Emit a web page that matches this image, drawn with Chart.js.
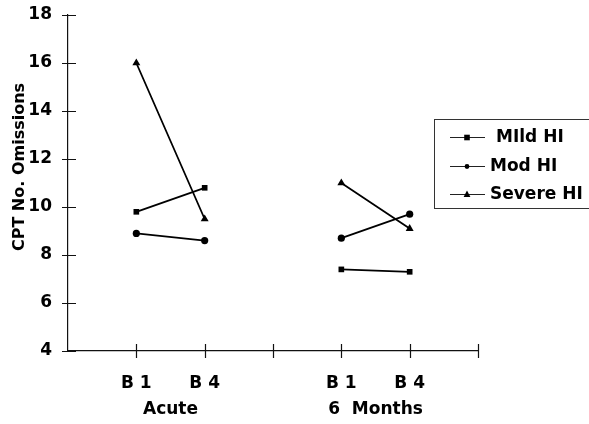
<!DOCTYPE html>
<html lang="en">
<head>
  <meta charset="UTF-8" />
  <title>CPT No. Omissions</title>
  <script src="https://cdn.jsdelivr.net/npm/chart.js"></script>
  <style>
    html, body { margin: 0; padding: 0; background: #fff; }
    #wrap { width: 589px; height: 424px; position: relative; }
  </style>
</head>
<body>
  <div id="wrap"><canvas id="cptChart"></canvas></div>

  <script>
    // slots on the x axis: empty ones give the gaps at the ends and between groups
    const categories = ['', 'B 1', 'B 4', '', 'B 1', 'B 4', ''];
    const groups = [
      { label: 'Acute', from: 1, to: 2 },
      { label: '6  Months', from: 4, to: 5 }
    ];
    const yTicks = [4, 6, 8, 10, 12, 14, 16, 18];

    const mildHI   = [null, 9.8, 10.8, null, 7.4, 7.3, null];
    const modHI    = [null, 8.9, 8.6, null, 8.7, 9.7, null];
    const severeHI = [null, 16.0, 9.5, null, 11.0, 9.1, null];

    const seriesNames = ['MIld HI', 'Mod HI', 'Severe HI'];
    const seriesStyles = ['rect', 'circle', 'triangle'];
    const seriesRadius = [4, 3.6, 4.6];

    const FONT = '"DejaVu Sans", sans-serif';

    // draws axis ticks that cross the axis lines, group titles, y title and legend
    const decorations = {
      id: 'decorations',
      afterDraw(chart) {
        const ctx = chart.ctx;
        const x = chart.scales.x, y = chart.scales.y;
        const area = chart.chartArea;
        ctx.save();
        ctx.strokeStyle = '#111';
        ctx.lineWidth = 1.2;
        ctx.beginPath();
        yTicks.forEach(v => {
          const py = Math.round(y.getPixelForValue(v)) + 0.5;
          ctx.moveTo(area.left - 6, py);
          ctx.lineTo(area.left + 8, py);
        });
        categories.forEach((c, i) => {
          if (i === 0) return;
          const px = Math.round(x.getPixelForValue(i)) + 0.5;
          ctx.moveTo(px, area.bottom - 7);
          ctx.lineTo(px, area.bottom + 7);
        });
        ctx.stroke();

        ctx.fillStyle = '#000';
        ctx.font = 'bold 17px ' + FONT;
        ctx.textAlign = 'center';
        ctx.textBaseline = 'middle';
        groups.forEach(g => {
          const cx = (x.getPixelForValue(g.from) + x.getPixelForValue(g.to)) / 2;
          ctx.fillText(g.label, cx, 410);
        });

        ctx.save();
        ctx.translate(20, 167);
        ctx.rotate(-Math.PI / 2);
        ctx.font = 'bold 16px ' + FONT;
        ctx.fillText('CPT No. Omissions', 0, 0);
        ctx.restore();

        // legend box
        ctx.strokeStyle = '#333';
        ctx.lineWidth = 1;
        ctx.strokeRect(434.5, 119.5, 170, 89);
        const rows = [137, 166, 194];
        const textX = [496, 490, 490];
        rows.forEach((ry, i) => {
          ctx.strokeStyle = '#222';
          ctx.lineWidth = 1;
          ctx.beginPath();
          ctx.moveTo(450, ry + 0.5);
          ctx.lineTo(485, ry + 0.5);
          ctx.stroke();
          ctx.fillStyle = '#000';
          drawMarker(ctx, seriesStyles[i], 467, ry + 0.5, seriesRadius[i] - 1.2);
          ctx.textAlign = 'left';
          ctx.font = 'bold 17px ' + FONT;
          ctx.fillText(seriesNames[i], textX[i], ry + 1);
        });
        ctx.restore();
      }
    };

    function drawMarker(ctx, style, cx, cy, r) {
      ctx.beginPath();
      if (style === 'rect') {
        ctx.rect(cx - r, cy - r, 2 * r, 2 * r);
      } else if (style === 'circle') {
        ctx.arc(cx, cy, r, 0, Math.PI * 2);
      } else {
        ctx.moveTo(cx, cy - r * 1.2);
        ctx.lineTo(cx + r, cy + r * 0.7);
        ctx.lineTo(cx - r, cy + r * 0.7);
        ctx.closePath();
      }
      ctx.fill();
    }

    const datasets = [mildHI, modHI, severeHI].map((d, i) => ({
      label: seriesNames[i],
      data: d,
      borderColor: '#000',
      backgroundColor: '#000',
      borderWidth: 1.8,
      pointStyle: seriesStyles[i],
      pointRadius: seriesRadius[i],
      pointBackgroundColor: '#000',
      pointBorderColor: '#000',
      pointBorderWidth: 0,
      spanGaps: false,
      tension: 0
    }));

    new Chart(document.getElementById('cptChart'), {
      type: 'line',
      data: { labels: categories, datasets: datasets },
      options: {
        responsive: true,
        maintainAspectRatio: false,
        animation: false,
        layout: { padding: { left: 0, top: 15, right: 111, bottom: 0 } },
        plugins: {
          legend: { display: false },
          tooltip: { enabled: false }
        },
        scales: {
          x: {
            offset: false,
            afterFit: s => { s.height = 73; s.paddingLeft = 0; s.paddingRight = 0; },
            grid: { display: false, drawTicks: false },
            border: { display: true, color: '#111', width: 1.2 },
            ticks: {
              color: '#000',
              autoSkip: false,
              maxRotation: 0,
              padding: 22,
              font: { family: FONT, size: 17, weight: 'bold' }
            }
          },
          y: {
            min: 4,
            max: 18,
            afterFit: s => { s.width = 68; s.paddingTop = 0; s.paddingBottom = 0; },
            afterBuildTicks: s => { s.ticks = yTicks.map(v => ({ value: v })); },
            grid: { display: false, drawTicks: false },
            border: { display: true, color: '#111', width: 1.2 },
            ticks: {
              color: '#000',
              padding: 16,
              font: { family: FONT, size: 17, weight: 'bold' }
            }
          }
        }
      },
      plugins: [decorations]
    });
  </script>
</body>
</html>
